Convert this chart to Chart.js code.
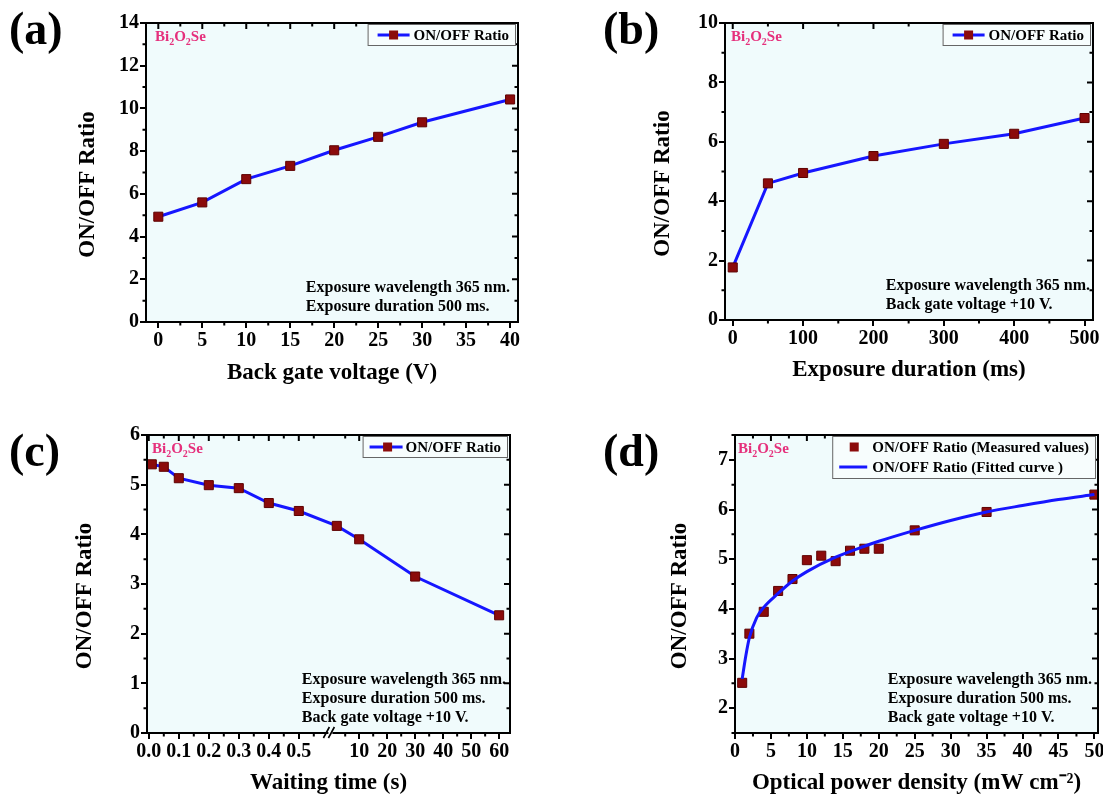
<html>
<head>
    <title>Bi2O2Se ON/OFF ratio</title>
    <script src="https://cdn.jsdelivr.net/npm/chart.js"></script>
    <style>
        body { margin: 0; width: 1103px; height: 800px; overflow: hidden; background: #fff; position: relative; }
        canvas { position: absolute; }
        .tag { position: absolute; font-family: "Liberation Serif", serif; font-weight: bold; font-size: 46px; line-height: 1; color: #000; }
    </style>
</head>
<body>
    <canvas id="chart_a" width="545" height="400" style="left:0px;top:0px"></canvas>
    <canvas id="chart_b" width="550" height="400" style="left:560px;top:0px"></canvas>
    <canvas id="chart_c" width="545" height="400" style="left:0px;top:400px"></canvas>
    <canvas id="chart_d" width="550" height="400" style="left:560px;top:400px"></canvas>

    <div class="tag" style="left:9px;top:6px">(a)</div>
    <div class="tag" style="left:603px;top:6px">(b)</div>
    <div class="tag" style="left:9px;top:428px">(c)</div>
    <div class="tag" style="left:603px;top:428px">(d)</div>

<script>
    // (a) ratio vs back gate voltage
    const gate_voltage = [0, 5, 10, 15, 20, 25, 30, 40];
    const gate_ratio = [4.93, 5.6, 6.69, 7.31, 8.04, 8.67, 9.35, 10.42];
    const gate_x_ticks = [0, 5, 10, 15, 20, 25, 30, 35, 40];
    const gate_y_ticks = [0, 2, 4, 6, 8, 10, 12, 14];

    // (b) ratio vs exposure duration
    const exposure_ms = [0, 50, 100, 200, 300, 400, 500];
    const exposure_ratio = [1.77, 4.6, 4.95, 5.52, 5.93, 6.27, 6.8];
    const exposure_x_ticks = [0, 100, 200, 300, 400, 500];
    const exposure_y_ticks = [0, 2, 4, 6, 8, 10];

    // (c) ratio vs waiting time (broken x axis)
    const wait_time = [0.01, 0.05, 0.1, 0.2, 0.3, 0.4, 0.5, 2, 10, 30, 60];
    const wait_ratio = [5.41, 5.36, 5.13, 4.99, 4.93, 4.63, 4.47, 4.17, 3.9, 3.15, 2.37];
    const wait_x_ticks = [0, 0.1, 0.2, 0.3, 0.4, 0.5, 10, 20, 30, 40, 50, 60];
    const wait_x_labels = ["0.0", "0.1", "0.2", "0.3", "0.4", "0.5", "10", "20", "30", "40", "50", "60"];
    const wait_x_minor = [0.05, 0.15, 0.25, 0.35, 0.45, 0.55, 5, 15, 25, 35, 45, 55];
    const wait_y_ticks = [0, 1, 2, 3, 4, 5, 6];

    // (d) ratio vs optical power density
    const power_density = [1, 2, 4, 6, 8, 10, 12, 14, 16, 18, 20, 25, 35, 50];
    const power_ratio = [2.51, 3.5, 3.94, 4.36, 4.6, 4.98, 5.07, 4.96, 5.17, 5.21, 5.21, 5.58, 5.95, 6.3];
    const fit_density = [1, 1.5, 2, 3, 4, 6, 8, 10, 14, 18, 20, 25, 30, 35, 40, 45, 50];
    const fit_ratio = [2.59, 3.05, 3.42, 3.82, 4.03, 4.31, 4.56, 4.75, 5.04, 5.26, 5.36, 5.58, 5.78, 5.95, 6.08, 6.2, 6.3];
    const power_x_ticks = [0, 5, 10, 15, 20, 25, 30, 35, 40, 45, 50];
    const power_y_ticks = [2, 3, 4, 5, 6, 7];

    const SERIF = '"Liberation Serif", "Times New Roman", serif';
    const PLOT_BG = "#f0fbfc";
    const LINE_BLUE = "#1616ff";
    const MARK_RED = "#8b0b0b";
    const PINK = "#e5307c";

    // the break on the waiting time axis: 0-0.6 s on the left, 1-62 s on the right
    function wait_axis(t) {
        return t <= 0.6 ? t * 10 : 6.08 + t * 0.0933;
    }

    const pairs = (xs, ys, fx) => xs.map((x, i) => ({ x: fx ? fx(x) : x, y: ys[i] }));

    function midpoints(vals, min, max) {
        const out = [];
        for (let i = 0; i < vals.length - 1; i++) out.push((vals[i] + vals[i + 1]) / 2);
        const step = vals[1] - vals[0];
        if (vals[0] - step / 2 >= min) out.unshift(vals[0] - step / 2);
        const last = vals[vals.length - 1];
        const step2 = last - vals[vals.length - 2];
        if (last + step2 / 2 <= max) out.push(last + step2 / 2);
        return out;
    }

    function draw_formula(ctx, x, y) {
        const parts = [["Bi", 0], ["2", 1], ["O", 0], ["2", 1], ["Se", 0]];
        ctx.fillStyle = PINK;
        ctx.textAlign = "left";
        ctx.textBaseline = "middle";
        parts.forEach(p => {
            ctx.font = p[1] ? "bold 10px " + SERIF : "bold 15px " + SERIF;
            ctx.fillText(p[0], x, p[1] ? y + 5 : y);
            x += ctx.measureText(p[0]).width;
        });
    }

    const frame_plugin = {
        id: "frame",
        beforeDraw(chart) {
            const { ctx, chartArea: a } = chart;
            ctx.save();
            ctx.fillStyle = PLOT_BG;
            ctx.fillRect(a.left, a.top, a.width, a.height);
            ctx.restore();
        },
        afterDraw(chart, args, opts) {
            const { ctx, chartArea: a } = chart;
            const sx = chart.scales.x, sy = chart.scales.y;
            ctx.save();

            // mirrored and minor ticks
            ctx.strokeStyle = "#000";
            ctx.lineWidth = 2;
            ctx.beginPath();
            sx.ticks.forEach(t => {
                const px = sx.getPixelForValue(t.value);
                ctx.moveTo(px, a.top); ctx.lineTo(px, a.top + 6);
            });
            sy.ticks.forEach(t => {
                const py = sy.getPixelForValue(t.value);
                ctx.moveTo(a.right, py); ctx.lineTo(a.right - 6, py);
            });
            const minor_x = opts.minorX || midpoints(sx.ticks.map(t => t.value), sx.min, sx.max);
            const minor_y = midpoints(sy.ticks.map(t => t.value), sy.min, sy.max);
            minor_x.forEach(v => {
                const px = sx.getPixelForValue(v);
                ctx.moveTo(px, a.bottom); ctx.lineTo(px, a.bottom + 3.5);
                ctx.moveTo(px, a.top); ctx.lineTo(px, a.top + 3.5);
            });
            minor_y.forEach(v => {
                const py = sy.getPixelForValue(v);
                ctx.moveTo(a.left, py); ctx.lineTo(a.left - 3.5, py);
                ctx.moveTo(a.right, py); ctx.lineTo(a.right - 3.5, py);
            });
            ctx.stroke();
            ctx.strokeRect(a.left, a.top, a.width, a.height);

            // axis break marks
            if (opts.breakAt != null) {
                const bx = sx.getPixelForValue(opts.breakAt);
                ctx.fillStyle = "#fff";
                ctx.fillRect(bx - 1, a.bottom - 2, 4, 4);
                ctx.beginPath();
                ctx.lineWidth = 1.6;
                ctx.moveTo(bx - 6, a.bottom + 5); ctx.lineTo(bx, a.bottom - 6);
                ctx.moveTo(bx - 1, a.bottom + 5); ctx.lineTo(bx + 5, a.bottom - 6);
                ctx.stroke();
            }

            // y axis title
            ctx.fillStyle = "#000";
            ctx.font = "bold 23px " + SERIF;
            ctx.textAlign = "center";
            ctx.textBaseline = "middle";
            ctx.translate(opts.yTitleX, (a.top + a.bottom) / 2 + 12);
            ctx.rotate(-Math.PI / 2);
            ctx.fillText("ON/OFF Ratio", 0, 0);
            ctx.setTransform(1, 0, 0, 1, 0, 0);

            // compound name
            draw_formula(ctx, a.left + opts.formulaDx, a.top + 14);

            // legend box
            const lg = opts.legend;
            ctx.font = "bold 15px " + SERIF;
            const tw = Math.max(...lg.items.map(it => ctx.measureText(it.text).width));
            const w = lg.textX + tw + 6, h = 21 * lg.items.length;
            const x0 = a.right - 3 - w, y0 = a.top + 1;
            ctx.fillStyle = "#f7fdfd";
            ctx.fillRect(x0, y0, w, h);
            ctx.strokeStyle = "#666";
            ctx.lineWidth = 1;
            ctx.strokeRect(x0 + 0.5, y0 + 0.5, w, h);
            lg.items.forEach((it, i) => {
                const cy = y0 + 11 + i * 20;
                if (it.line) {
                    ctx.strokeStyle = LINE_BLUE;
                    ctx.lineWidth = 3;
                    ctx.beginPath();
                    ctx.moveTo(x0 + lg.lineFrom, cy); ctx.lineTo(x0 + lg.lineTo, cy);
                    ctx.stroke();
                }
                if (it.marker) {
                    ctx.fillStyle = MARK_RED;
                    ctx.fillRect(x0 + lg.markX - 4.5, cy - 4.5, 9, 9);
                }
                ctx.fillStyle = "#000";
                ctx.textAlign = "left";
                ctx.fillText(it.text, x0 + lg.textX, cy + 1);
            });

            // measurement conditions
            ctx.font = "bold 16px " + SERIF;
            const lines = opts.notes;
            const nw = ctx.measureText(lines[0]).width;
            lines.forEach((ln, i) => {
                ctx.fillText(ln, a.right - opts.notesGap - nw, a.bottom - 15 - 19 * (lines.length - 1 - i));
            });
            ctx.restore();
        }
    };

    const tick_font = { family: SERIF, size: 20, weight: "bold" };
    const title_font = { family: SERIF, size: 23, weight: "bold", lineHeight: 1.2 };

    function build_chart(id, s) {
        const ctx = document.getElementById(id).getContext("2d");
        return new Chart(ctx, {
            type: "line",
            data: { datasets: s.datasets },
            options: {
                responsive: false,
                animation: false,
                events: [],
                layout: { padding: s.padding },
                plugins: {
                    legend: { display: false },
                    tooltip: { enabled: false },
                    frame: s.frame
                },
                scales: {
                    x: {
                        type: "linear",
                        min: s.xRange[0],
                        max: s.xRange[1],
                        afterBuildTicks: sc => { sc.ticks = s.xTicks.map(v => ({ value: s.xMap ? s.xMap(v) : v })); },
                        afterFit: sc => { sc.height = s.xHeight; },
                        ticks: {
                            autoSkip: false, maxRotation: 0, minRotation: 0, padding: 1,
                            color: "#000", font: tick_font,
                            callback: (v, i) => s.xLabels ? s.xLabels[i] : s.xTicks[i]
                        },
                        grid: { drawOnChartArea: false, drawTicks: true, tickLength: 6, color: "#000", lineWidth: 2 },
                        border: { display: true, color: "#000", width: 2 },
                        title: { display: true, text: s.xTitle, color: "#000", font: title_font, padding: { top: 0, bottom: s.xTitlePad } }
                    },
                    y: {
                        type: "linear",
                        min: s.yRange[0],
                        max: s.yRange[1],
                        afterBuildTicks: sc => { sc.ticks = s.yTicks.map(v => ({ value: v })); },
                        afterFit: sc => { sc.width = s.yWidth; },
                        ticks: { padding: 1, color: "#000", font: tick_font, callback: (v, i) => s.yTicks[i] },
                        grid: { drawOnChartArea: false, drawTicks: true, tickLength: 6, color: "#000", lineWidth: 2 },
                        border: { display: true, color: "#000", width: 2 }
                    }
                }
            },
            plugins: [frame_plugin]
        });
    }

    function ratio_line(points) {
        return {
            data: points,
            borderColor: LINE_BLUE,
            borderWidth: 3,
            tension: 0,
            pointStyle: "rect",
            pointRadius: 6.4,
            pointBackgroundColor: MARK_RED,
            pointBorderColor: "#5e0000",
            pointBorderWidth: 1
        };
    }

    const single_legend = { lineFrom: 10, lineTo: 42, markX: 26, textX: 46, items: [{ line: true, marker: true, text: "ON/OFF Ratio" }] };

    build_chart("chart_a", {
        datasets: [ratio_line(pairs(gate_voltage, gate_ratio))],
        xRange: [-1.4, 40.9], yRange: [0, 14],
        xTicks: gate_x_ticks, yTicks: gate_y_ticks,
        padding: { left: 0, top: 23, right: 27, bottom: 0 },
        yWidth: 146, xHeight: 78,
        xTitle: "Back gate voltage (V)", xTitlePad: 13,
        frame: {
            yTitleX: 88, formulaDx: 9, notesGap: 8,
            legend: single_legend,
            notes: ["Exposure wavelength 365 nm.", "Exposure duration 500 ms."]
        }
    });

    build_chart("chart_b", {
        datasets: [ratio_line(pairs(exposure_ms, exposure_ratio))],
        xRange: [-11, 512], yRange: [0, 10],
        xTicks: exposure_x_ticks, yTicks: exposure_y_ticks,
        padding: { left: 0, top: 23, right: 17, bottom: 0 },
        yWidth: 165, xHeight: 80,
        xTitle: "Exposure duration (ms)", xTitlePad: 16,
        frame: {
            yTitleX: 103, formulaDx: 6, notesGap: 3,
            legend: single_legend,
            notes: ["Exposure wavelength 365 nm.", "Back gate voltage +10 V."]
        }
    });

    build_chart("chart_c", {
        datasets: [ratio_line(pairs(wait_time, wait_ratio, wait_axis))],
        xRange: [-0.06, 12.04], yRange: [0, 6],
        xTicks: wait_x_ticks, xMap: wait_axis, xLabels: wait_x_labels, yTicks: wait_y_ticks,
        padding: { left: 0, top: 35, right: 35, bottom: 0 },
        yWidth: 147, xHeight: 67,
        xTitle: "Waiting time (s)", xTitlePad: 3,
        frame: {
            yTitleX: 85, formulaDx: 5, notesGap: 4, breakAt: 6.02,
            minorX: wait_x_minor.map(wait_axis),
            legend: { lineFrom: 7, lineTo: 40, markX: 25, textX: 43, items: [{ line: true, marker: true, text: "ON/OFF Ratio" }] },
            notes: ["Exposure wavelength 365 nm.", "Exposure duration 500 ms.", "Back gate voltage +10 V."]
        }
    });

    build_chart("chart_d", {
        datasets: [
            {
                data: pairs(fit_density, fit_ratio),
                borderColor: LINE_BLUE,
                borderWidth: 3,
                cubicInterpolationMode: "monotone",
                pointRadius: 0
            },
            {
                data: pairs(power_density, power_ratio),
                showLine: false,
                pointStyle: "rect",
                pointRadius: 6.4,
                pointBackgroundColor: MARK_RED,
                pointBorderColor: "#5e0000",
                pointBorderWidth: 1
            }
        ],
        xRange: [0, 50.5], yRange: [1.5, 7.5],
        xTicks: power_x_ticks, yTicks: power_y_ticks,
        padding: { left: 0, top: 35, right: 12, bottom: 0 },
        yWidth: 175, xHeight: 67,
        xTitle: "Optical power density (mW cm\u207B\u00B2)", xTitlePad: 3,
        frame: {
            yTitleX: 120, formulaDx: 3, notesGap: 6,
            legend: {
                lineFrom: 7, lineTo: 35, markX: 22, textX: 40,
                items: [
                    { marker: true, text: "ON/OFF Ratio (Measured values)" },
                    { line: true, text: "ON/OFF Ratio (Fitted curve )" }
                ]
            },
            notes: ["Exposure wavelength 365 nm.", "Exposure duration 500 ms.", "Back gate voltage +10 V."]
        }
    });
</script>
</body>
</html>
